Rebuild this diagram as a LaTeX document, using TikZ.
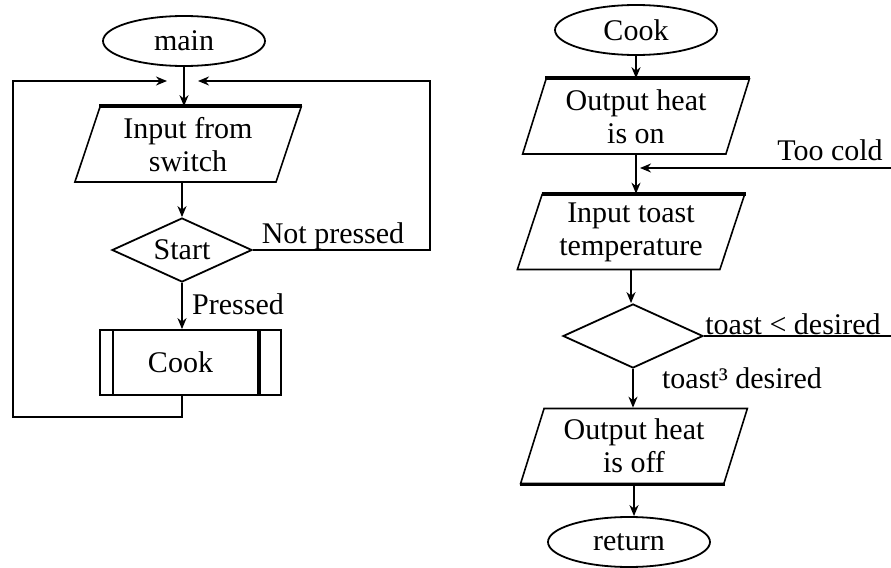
\documentclass[tikz,border=0pt]{standalone}
\usepackage{fontspec}
\setmainfont{Liberation Serif}
\usetikzlibrary{arrows.meta}
\usetikzlibrary{shapes}
\tikzstyle{terminal} = [
    ellipse,
    draw=black,
    line width=0.9pt,
    inner sep=0pt,
    minimum width=81pt,
    minimum height=25pt
]
\tikzstyle{io} = [
    trapezium,
    trapezium left angle=72,
    trapezium right angle=108,
    trapezium stretches=true,
    draw=black,
    line width=0.8pt,
    inner sep=1pt,
    align=center,
    minimum width=114pt,
    minimum height=37.5pt
]
\tikzstyle{decision} = [
    diamond,
    draw=black,
    line width=0.9pt,
    aspect=2.2,
    inner sep=0pt,
    minimum width=70pt,
    minimum height=32pt
]
\tikzstyle{process} = [
    rectangle,
    draw=black,
    line width=0.9pt,
    minimum width=90.5pt,
    minimum height=32.5pt
]
\tikzstyle{tran}  = [
    draw,
    ->,
    >={Stealth[length=5.5pt,width=4.5pt]},
    line width=0.9pt
]
\tikzstyle{lab}   = [inner sep=0pt]

\begin{document}
\begin{tikzpicture}[x=0.5pt, y=-0.5pt, font=\fontsize{15}{16.5}\selectfont]

\useasboundingbox (0,0) rectangle (891,568);

% main loop
\node[terminal] (main)    at (184,41)    {main};
\node[io]       (swin)    at (188,144.5) {Input from\\switch};
\node[decision] (start)   at (182,250)   {Start};
\node[process]  (cookbox) at (190.5,362.5) {\hspace*{-10pt}Cook};

\draw[line width=0.9pt] ([xshift=7pt]cookbox.north west) -- ([xshift=7pt]cookbox.south west);
\draw[line width=1.6pt] ([xshift=-11.5pt]cookbox.north east) -- ([xshift=-11.5pt]cookbox.south east);
\draw[line width=1.8pt] (swin.top left corner) -- (swin.top right corner);

\coordinate (inL) at (167,81);
\coordinate (inR) at (198,81);

\node[lab] (np) at (333,236) {Not pressed};
\node[lab] (pr) at (238,304) {Pressed};

\draw[tran] (main.south)          to (main.south |- swin.north);
\draw[tran] (swin.south -| start) to (start.north);
\draw[tran] (start.south)         to (start.south |- cookbox.north);
\draw[tran] (cookbox.south -| start) -- ++(0,21) -| (13,81) -- (inL);
\draw[tran] (start.east) -| (430,81) -- (inR);

% Cook subroutine
\node[terminal] (cook)    at (636,30)    {Cook};
\node[io]       (heaton)  at (636,116.5) {Output heat\\is on};
\node[io]       (temp)    at (631,232)   {Input toast\\temperature};
\node[decision] (test)    at (633,336)   {};
\node[io]       (heatoff) at (634,446)   {Output heat\\is off};
\node[terminal] (ret)     at (629,542)   {return};

\draw[line width=1.8pt] (heaton.top left corner) -- (heaton.top right corner);
\draw[line width=1.8pt] (temp.top left corner) -- (temp.top right corner);
\draw[line width=1.8pt] (heatoff.bottom left corner) -- (heatoff.bottom right corner);

\coordinate (coldin)  at (640,168);
\coordinate (coldout) at (891,168);
\coordinate (lessout) at (891,336);

\node[lab] (toocold) at (830,150) {Too cold};
\node[lab] (less)    at (793,324) {toast < desired};
\node[lab] (geq)     at (742,378) {toast³ desired};

\draw[tran] (cook.south)    to (cook.south |- heaton.north);
\draw[tran] (heaton.south)  to (heaton.south |- temp.north);
\draw[tran] (temp.south)    to (temp.south |- test.north);
\draw[tran] (test.south)    to (test.south |- heatoff.north);
\draw[tran] (heatoff.south) to (heatoff.south |- ret.north);
\draw[tran] (coldout)       to (coldin);
\draw[line width=0.9pt] (test.east) to (lessout);

\end{tikzpicture}
\end{document}
